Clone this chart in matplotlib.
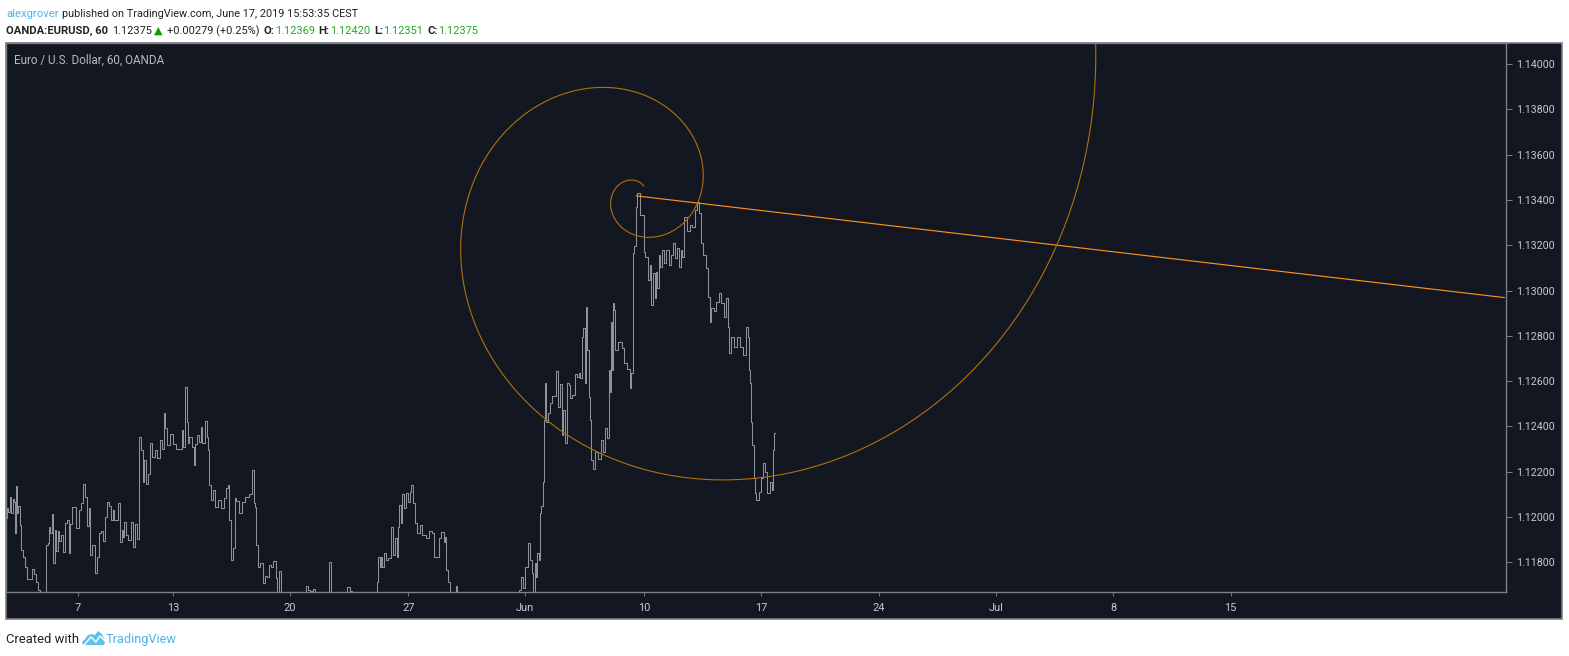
#Recreates the TradingView EURUSD 60 min chart with the fib spiral drawing.
import numpy as np
import matplotlib
matplotlib.use('Agg')
import matplotlib.pyplot as plt
from matplotlib.lines import Line2D
from matplotlib.patches import Rectangle, Polygon

W, H = 1569, 656

# hourly bar number and price
bars = [0,1,2,4,5,7,8,9,10,11,13,14,16,18,19,22,25,27,29,31,33,35,38,40,41,43,44,45,47,48,50,51,53,55,57,59,61,63,64,66,67,69,72,75,77,80,81,83,85,86,89,91,93,95,98,99,
        102,104,106,108,109,111,113,115,116,119,120,121,123,126,129,130,132,134,136,138,140,141,144,146,148,150,153,155,158,160,161,163,166,169,172,175,179,180,181,183,185,186,188,191,192,194,196,198,199,
        201,204,205,206,208,210,212,215,218,220,224,225,227,228,230,233,234,236,239,242,246,250,252,253,255,256,258,261,263,265,267,269,271,274,276,278,280,282,286,
        305,307,309,312,314,316,318,329,331,332,347,350,352,355,378,379,381,382,383,385,387,389,392,394,396,398,400,401,402,404,405,408,410,412,413,415,417,419,421,424,426,431,434,436,438,441,443,446,448,449,450,453,454,459,460,461,464,
        523,525,527,529,532,535,536,538,539,541,542,544,545,546,548,549,550,551,552,555,557,559,561,563,565,567,569,570,572,574,576,577,580,582,584,586,588,589,591,592,593,595,596,597,599,
        601,603,606,609,611,613,615,617,618,619,620,621,622,623,627,631,633,637,638,640,641,643,644,646,649,651,652,654,658,659,660,662,664,665,666,668,669,672,673,676,679,681,683,685,687,689,690,692,694,698,
        700,703,705,708,709,711,714,716,718,720,722,725,727,730,732,735,737,738,739,743,745,749,752,755,757,759,760,761,762,763,765,766,768,771,773,775,777,779,782,783,784,786]
prices = [1.11994,1.12038,1.12024,1.12087,1.12019,1.12078,1.12068,1.11931,1.12138,1.12016,1.12049,1.11965,1.11854,1.11825,1.11781,1.11725,1.11725,1.11770,1.11748,1.11714,1.11678,1.11634,1.11589,1.11589,1.11876,1.11887,1.11957,1.11928,1.12013,1.11798,1.11943,1.11850,1.11940,1.11895,1.11920,1.11847,1.11972,1.11987,1.11840,1.11969,1.12043,1.12043,1.11950,1.12031,1.12060,1.12146,1.12090,1.11960,1.12038,1.11832,1.11876,1.11751,1.11825,1.11928,1.11940,1.11895,
          1.12001,1.12068,1.12049,1.11987,1.12031,1.11987,1.11987,1.12060,1.11891,1.11943,1.11913,1.11979,1.11920,1.11898,1.11979,1.11869,1.11969,1.11901,1.12355,1.12296,1.12156,1.12252,1.12146,1.12190,1.12328,1.12263,1.12296,1.12259,1.12340,1.12299,1.12458,1.12391,1.12318,1.12366,1.12322,1.12299,1.12299,1.12384,1.12308,1.12575,1.12421,1.12325,1.12355,1.12308,1.12230,1.12322,1.12362,1.12333,1.12399,
          1.12328,1.12425,1.12355,1.12296,1.12141,1.12075,1.12119,1.12046,1.12075,1.12038,1.12082,1.12127,1.12141,1.11987,1.11810,1.11862,1.12082,1.12072,1.12016,1.12068,1.12090,1.12102,1.12207,1.12060,1.12046,1.11876,1.11781,1.11795,1.11707,1.11740,1.11737,1.11788,1.11778,1.11807,1.11729,1.11634,1.11763,1.11634,1.11575,
          1.11575,1.11695,1.11678,1.11675,1.11684,1.11670,1.11575,1.11575,1.11803,1.11575,1.11575,1.11692,1.11672,1.11575,1.11575,1.11714,1.11825,1.11778,1.11825,1.11781,1.11842,1.11810,1.11817,1.11957,1.11832,1.11906,1.11825,1.11957,1.12053,1.11972,1.12102,1.12038,1.12104,1.12068,1.12112,1.12141,1.12060,1.11972,1.11928,1.11965,1.11920,1.11906,1.11940,1.11928,1.11825,1.11822,1.11906,1.11935,1.11891,1.11913,1.11766,1.11714,1.11634,1.11634,1.11695,1.11634,1.11575,
          1.11575,1.11678,1.11734,1.11685,1.11781,1.11887,1.11810,1.11751,1.11670,1.11798,1.11737,1.11840,1.11810,1.12016,1.12049,1.12156,1.12428,1.12590,1.12421,1.12458,1.12502,1.12534,1.12534,1.12646,1.12487,1.12587,1.12362,1.12473,1.12325,1.12590,1.12583,1.12524,1.12539,1.12631,1.12620,1.12637,1.12612,1.12796,1.12833,1.12590,1.12929,1.12737,1.12531,1.12428,1.12252,
          1.12210,1.12288,1.12255,1.12340,1.12288,1.12392,1.12347,1.12649,1.12553,1.12862,1.12649,1.12943,1.12914,1.12737,1.12774,1.12745,1.12678,1.12652,1.12568,1.12634,1.13164,1.13196,1.13370,1.13432,1.13333,1.13333,1.13171,1.13149,1.13046,1.13113,1.12936,1.13076,1.12965,1.13083,1.13010,1.13157,1.13105,1.13179,1.13120,1.13179,1.13113,1.13157,1.13208,1.13142,1.13186,1.13105,1.13179,1.13149,1.13326,1.13263,
          1.13289,1.13282,1.13355,1.13392,1.13341,1.13208,1.13157,1.13098,1.12973,1.12862,1.12921,1.12911,1.12951,1.12987,1.12943,1.12884,1.12965,1.12840,1.12723,1.12796,1.12752,1.12796,1.12752,1.12715,1.12840,1.12796,1.12649,1.12590,1.12421,1.12318,1.12171,1.12104,1.12075,1.12112,1.12171,1.12240,1.12200,1.12104,1.12156,1.12119,1.12296,1.12372]

# drawing tool anchors, the line runs through both and on to the axis
line_bars = [644, 1532]
line_prices = [1.13418, 1.12969]
spiral_point = (706, 1.13379)

time_ticks = [73, 170, 290, 411, 530, 652, 772, 892, 1012, 1132, 1252]
time_labels = ['7', '13', '20', '27', 'Jun', '10', '17', '24', 'Jul', '8', '15']
price_ticks = [1.118, 1.120, 1.122, 1.124, 1.126, 1.128, 1.130, 1.132, 1.134, 1.136, 1.138, 1.140]

BG = '#131722'
EDGE = '#7d7f85'
TXT = '#c8cad0'
GREEN = '#22ab22'
BLUE = '#4db4e6'
plt.rcParams['font.family'] = ['Roboto', 'DejaVu Sans']


def fx(px):
    return px / W


def fy(py):
    return 1 - py / H


fig = plt.figure(figsize=(W / 100, H / 100), dpi=100, facecolor='white')

# whole dark panel behind the axes, price and time scale included
panel = Rectangle((fx(6), fy(619)), 1556 / W, 576 / H, transform=fig.transFigure,
                  facecolor=BG, edgecolor=EDGE, linewidth=1.2, zorder=-1)
fig.add_artist(panel)

ax = fig.add_axes([fx(6), fy(592), 1500 / W, 549 / H], facecolor=BG)
ax.set_xlim(-0.7, 1533.8)
ax.set_ylim(1.11669, 1.14093)

ax.plot(bars, prices, color='#8f929b', linewidth=0.75, drawstyle='steps-mid')
ax.plot(line_bars, line_prices, color='#f7931a', linewidth=0.85)

# golden spiral of the fib tool, built from its two anchors in screen space
fig.canvas.draw()
c = ax.transData.transform((line_bars[0], line_prices[0]))
p = ax.transData.transform(spiral_point)
r0 = np.hypot(*(p - c))
a0 = np.arctan2(p[1] - c[1], p[0] - c[0])
turn = np.linspace(-1.66 * np.pi, 2.6 * np.pi, 1500)
r = r0 * ((1 + 5 ** 0.5) / 2) ** (turn / (np.pi / 2))
spiral = ax.transData.inverted().transform(np.column_stack((c[0] + r * np.cos(a0 + turn),
                                                            c[1] + r * np.sin(a0 + turn))))
ax.plot(spiral[:, 0], spiral[:, 1], color='#b0700f', linewidth=0.8)

ax.set_xticks(time_ticks)
ax.set_xticklabels(time_labels)
ax.set_yticks(price_ticks)
ax.set_yticklabels(['%.5f' % v for v in price_ticks])
ax.yaxis.tick_right()
ax.tick_params(axis='x', colors=TXT, labelsize=7.9, length=3, width=0.7, color=EDGE, pad=5)
ax.tick_params(axis='y', colors=TXT, labelsize=7.7, length=4, width=0.7, color=EDGE, pad=3)
for s in ax.spines.values():
    s.set_color(EDGE)
    s.set_linewidth(1)

ax.text(8 / 1500, 1 - 17 / 549, 'Euro / U.S. Dollar, 60, OANDA', transform=ax.transAxes,
        color='#b8bbc3', fontsize=8.4, va='center', ha='left')

# header lines above the panel
fig.text(fx(6), fy(17), 'alexgrover', color=BLUE, fontsize=8.2)
fig.text(fx(62), fy(17), 'published on TradingView.com, June 17, 2019 15:53:35 CEST', color='#222222', fontsize=7.8)

header = [(6, 'OANDA:EURUSD, 60', '#222222', 'bold'), (112, '1.12375', '#222222', 'normal'),
          (167, '+0.00279 (+0.25%)', '#222222', 'normal'), (263, 'O:', '#222222', 'bold'),
          (275, '1.12369', GREEN, 'normal'), (318, 'H:', '#222222', 'bold'),
          (330, '1.12420', GREEN, 'normal'), (374, 'L:', '#222222', 'bold'),
          (383, '1.12351', GREEN, 'normal'), (427, 'C:', '#222222', 'bold'),
          (438, '1.12375', GREEN, 'normal')]
for x0, s, col, wt in header:
    size = 8.1 if wt == 'bold' else 7.9
    fig.text(fx(x0), fy(34), s, color=col, fontsize=size, fontweight=wt)
fig.text(fx(154), fy(34), '▲', color='#0e9c0e', fontsize=8, family='DejaVu Sans')

# footer with logo
fig.text(fx(6), fy(643), 'Created with', color='#222222', fontsize=9.4)
logo = [(83, 645), (82, 642), (85, 639), (88, 635), (92, 634), (95, 635), (98, 631), (102, 634), (104, 639), (105, 642), (104, 645)]
fig.add_artist(Polygon([(fx(a), fy(b)) for a, b in logo], closed=True, transform=fig.transFigure,
                       facecolor='#5cc3ea', edgecolor='none'))
zig_x = [84, 91, 96, 100, 105]
zig_y = [645, 637, 642, 636, 641]
fig.add_artist(Line2D([fx(a) for a in zig_x], [fy(b) for b in zig_y], transform=fig.transFigure,
                      color='white', linewidth=1))
fig.text(fx(106), fy(643), 'TradingView', color=BLUE, fontsize=9.2)

fig.savefig('out.png', dpi=100, facecolor='white')
